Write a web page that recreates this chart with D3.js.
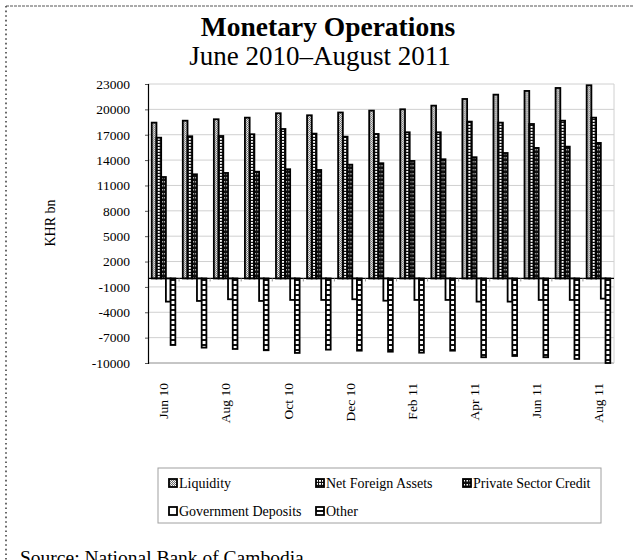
<!DOCTYPE html>
<html>
<head>
<meta charset="utf-8">
<script src="https://cdn.jsdelivr.net/npm/d3@7"></script>
<style>
  body { margin: 0; background: #fff; }
  text { font-family: "Liberation Serif", "Times New Roman", serif; fill: #000; }
</style>
</head>
<body>
<svg id="chart" width="634" height="560"></svg>
<script>
// Monthly stock of monetary aggregates, KHR billions
const months = ["Jun 10","Jul 10","Aug 10","Sep 10","Oct 10","Nov 10","Dec 10","Jan 11",
                "Feb 11","Mar 11","Apr 11","May 11","Jun 11","Jul 11","Aug 11"];
const tickLabels = ["Jun 10","Aug 10","Oct 10","Dec 10","Feb 11","Apr 11","Jun 11","Aug 11"];
const seriesNames = ["Liquidity","Net Foreign Assets","Private Sector Credit","Government Deposits","Other"];

const liquidity           = [18430,18660,18830,19020,19540,19300,19630,19850,20010,20440,21230,21740,22180,22530,22850];
const netForeignAssets    = [16650,16820,16850,17060,17680,17130,16770,17090,17290,17290,18550,18430,18270,18660,19020];
const privateSectorCredit = [12000,12320,12480,12630,12920,12830,13460,13630,13900,14100,14340,14840,15440,15590,16030];
const governmentDeposits  = [-2740,-2660,-2460,-2660,-2540,-2540,-2460,-2630,-2540,-2540,-2740,-2740,-2540,-2540,-2390];
const other               = [-7870,-8180,-8340,-8490,-8810,-8420,-8540,-8660,-8780,-8540,-9320,-9170,-9320,-9520,-10000];

const yTicks = [23000,20000,17000,14000,11000,8000,5000,2000,-1000,-4000,-7000,-10000];

const seriesValues = [liquidity, netForeignAssets, privateSectorCredit, governmentDeposits, other];
const patternIds = ["pLiq","pNfa","pPsc","pGov","pOth"];

const svg = d3.select("#chart");
const plot = { left: 148, right: 614, top: 84, bottom: 363 };

// --- fill patterns ---
const defs = svg.append("defs");
{
  const p = defs.append("pattern").attr("id","pLiq").attr("patternUnits","userSpaceOnUse")
    .attr("width",2).attr("height",2);
  p.append("rect").attr("width",2).attr("height",2).attr("fill","#6e6e6e");
  p.append("rect").attr("width",1).attr("height",1).attr("fill","#fff");
  p.append("rect").attr("x",1).attr("y",1).attr("width",1).attr("height",1).attr("fill","#ddd");
}
{
  const p = defs.append("pattern").attr("id","pNfa").attr("patternUnits","userSpaceOnUse")
    .attr("width",3).attr("height",3);
  p.append("rect").attr("width",3).attr("height",3).attr("fill","#111");
  p.append("rect").attr("width",2).attr("height",1.8).attr("fill","#fff");
}
{
  const p = defs.append("pattern").attr("id","pPsc").attr("patternUnits","userSpaceOnUse")
    .attr("width",3).attr("height",4);
  p.append("rect").attr("width",3).attr("height",4).attr("fill","#111");
  p.append("rect").attr("x",0.5).attr("y",1).attr("width",1.5).attr("height",1.5).attr("fill","#fff");
}
{
  const p = defs.append("pattern").attr("id","pGov").attr("patternUnits","userSpaceOnUse")
    .attr("width",4).attr("height",4);
  p.append("rect").attr("width",4).attr("height",4).attr("fill","#fff");
}
{
  const p = defs.append("pattern").attr("id","pOth").attr("patternUnits","userSpaceOnUse")
    .attr("width",12).attr("height",5);
  p.append("rect").attr("width",12).attr("height",5).attr("fill","#111");
  p.append("rect").attr("y",1).attr("width",12).attr("height",3).attr("fill","#fff");
}

// --- outer frame ---
svg.append("line").attr("x1",6).attr("x2",634).attr("y1",6).attr("y2",6)
  .attr("stroke","#555").attr("stroke-width",1).attr("stroke-dasharray","3,1");
svg.append("line").attr("x1",6).attr("x2",6).attr("y1",6).attr("y2",560)
  .attr("stroke","#444").attr("stroke-width",1.6).attr("stroke-dasharray","1.6,3");

// --- titles ---
svg.append("text").attr("x",328).attr("y",36).attr("text-anchor","middle")
  .attr("font-size",27.5).attr("font-weight","bold").text("Monetary Operations");
svg.append("text").attr("x",320).attr("y",65).attr("text-anchor","middle")
  .attr("font-size",27).text("June 2010–August 2011");

// --- scales ---
const y = d3.scaleLinear().domain([-10000, 23000]).range([plot.bottom, plot.top]);
const x = d3.scaleBand().domain(months).range([plot.left, plot.right])
  .paddingInner(0.24).paddingOuter(0.12);
const xs = d3.scaleBand().domain(d3.range(seriesNames.length)).range([0, x.bandwidth()]);

// gridlines
svg.append("g").selectAll("line").data(yTicks).join("line")
  .attr("x1",plot.left).attr("x2",plot.right)
  .attr("y1",d=>y(d)).attr("y2",d=>y(d))
  .attr("stroke",d=> d === -10000 ? "#8c8c8c" : "#d0d0d0").attr("stroke-width",1);
svg.append("line").attr("x1",plot.right).attr("x2",plot.right)
  .attr("y1",plot.top).attr("y2",plot.bottom).attr("stroke","#d0d0d0");

// y axis (plain hyphen for negatives)
const yAxis = svg.append("g").attr("transform",`translate(${plot.left},0)`)
  .call(d3.axisLeft(y).tickValues(yTicks).tickSize(3).tickPadding(15).tickFormat(d => String(d)));
yAxis.select(".domain").attr("stroke","#000").attr("stroke-width",1.2);
yAxis.selectAll(".tick line").attr("stroke","#555");
yAxis.selectAll(".tick text").attr("font-size",13.5).attr("font-family","Liberation Serif");

svg.append("text").attr("transform","translate(50,223) rotate(-90)")
  .attr("text-anchor","middle").attr("dy","0.35em").attr("font-size",14).text("KHR bn");

// bars
const groups = svg.append("g").selectAll("g").data(months).join("g")
  .attr("transform",m=>`translate(${x(m)},0)`);
groups.selectAll("rect").data((m,i)=>seriesValues.map((s,j)=>({j, v:s[i]}))).join("rect")
  .attr("x",d=>xs(d.j)).attr("width",xs.bandwidth())
  .attr("y",d=>Math.min(y(d.v), y(0)))
  .attr("height",d=>Math.abs(y(d.v)-y(0)))
  .attr("fill",d=>`url(#${patternIds[d.j]})`)
  .attr("stroke","#000").attr("stroke-width",1.8);

// zero line with category ticks
svg.append("line").attr("x1",plot.left).attr("x2",plot.right)
  .attr("y1",y(0)).attr("y2",y(0)).attr("stroke","#000").attr("stroke-width",1.2);
const step = x.step();
svg.append("g").selectAll("line").data(d3.range(1, months.length)).join("line")
  .attr("x1",i=>plot.left + i*step).attr("x2",i=>plot.left + i*step)
  .attr("y1",y(0)).attr("y2",y(0)+3).attr("stroke","#999");

// category labels
svg.append("g").selectAll("text").data(tickLabels).join("text")
  .attr("transform",m=>`translate(${x(m) + x.bandwidth()/2},383) rotate(-90)`)
  .attr("text-anchor","end").attr("dy","0.35em").attr("font-size",13.5).text(m=>m);

// legend
svg.append("rect").attr("x",158).attr("y",468).attr("width",443).attr("height",55)
  .attr("fill","none").attr("stroke","#a0a0a0");
const legendPos = [[169,483],[316,483],[463,483],[169,511],[316,511]];
const leg = svg.append("g").selectAll("g").data(seriesNames).join("g")
  .attr("transform",(d,i)=>`translate(${legendPos[i][0]},${legendPos[i][1]})`);
leg.append("rect").attr("x",0).attr("y",-4).attr("width",8).attr("height",8)
  .attr("fill",(d,i)=>`url(#${patternIds[i]})`).attr("stroke","#000").attr("stroke-width",1.8);
leg.append("text").attr("x",10).attr("y",4.5).attr("font-size",14).text(d=>d);

// source note, running off the bottom edge
svg.append("text").attr("x",20).attr("y",564).attr("font-size",19.5)
  .text("Source: National Bank of Cambodia");
</script>
</body>
</html>
